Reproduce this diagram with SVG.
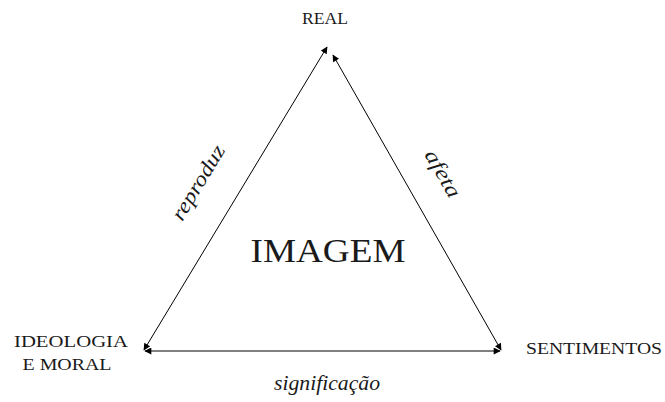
<svg xmlns="http://www.w3.org/2000/svg" width="665" height="402" viewBox="0 0 665 402">
<defs>
<marker id="ah" viewBox="0 0 10 10" refX="9" refY="5" markerWidth="8" markerHeight="7" markerUnits="userSpaceOnUse" orient="auto-start-reverse">
<path d="M0,0 L10,5 L0,10 z" fill="#000"/>
</marker>
<style>
.t{font-family:"Liberation Serif","Times New Roman",serif;fill:#1a1a1a}
.i{font-family:"Liberation Serif","DejaVu Serif","Times New Roman",serif;font-style:italic;fill:#1a1a1a}
.c{stroke:#000;stroke-width:1;fill:none;marker-start:url(#ah);marker-end:url(#ah)}
</style>
</defs>
<rect width="665" height="402" fill="#fff"/>
<g id="connectors">
<line class="c" x1="144" y1="350" x2="327" y2="47"/>
<line class="c" x1="333" y1="55" x2="501" y2="350"/>
<line class="c" x1="145" y1="351" x2="500" y2="351"/>
</g>
<g id="node-real"><text class="t" x="325" y="24" font-size="17" text-anchor="middle" textLength="46" lengthAdjust="spacingAndGlyphs">REAL</text></g>
<g id="node-imagem"><text class="t" x="328" y="262" font-size="33" text-anchor="middle" textLength="155" lengthAdjust="spacingAndGlyphs">IMAGEM</text></g>
<g id="node-ideologia">
<text class="t" x="71" y="347" font-size="17" text-anchor="middle" textLength="114" lengthAdjust="spacingAndGlyphs">IDEOLOGIA</text>
<text class="t" x="67" y="370" font-size="17" text-anchor="middle" textLength="89" lengthAdjust="spacingAndGlyphs">E MORAL</text>
</g>
<g id="node-sentimentos"><text class="t" x="594" y="354" font-size="17" text-anchor="middle" textLength="136" lengthAdjust="spacingAndGlyphs">SENTIMENTOS</text></g>
<g id="label-reproduz"><text class="i" x="0" y="0" font-size="21" text-anchor="middle" textLength="84" lengthAdjust="spacingAndGlyphs" transform="translate(204,186) rotate(-58.8)">reproduz</text></g>
<g id="label-afeta"><text class="i" x="0" y="0" font-size="21" text-anchor="middle" textLength="52" lengthAdjust="spacingAndGlyphs" transform="translate(437,177) rotate(60.3)">afeta</text></g>
<g id="label-significacao"><text class="i" x="327" y="390" font-size="20" text-anchor="middle" textLength="106" lengthAdjust="spacingAndGlyphs">significação</text></g>
</svg>
